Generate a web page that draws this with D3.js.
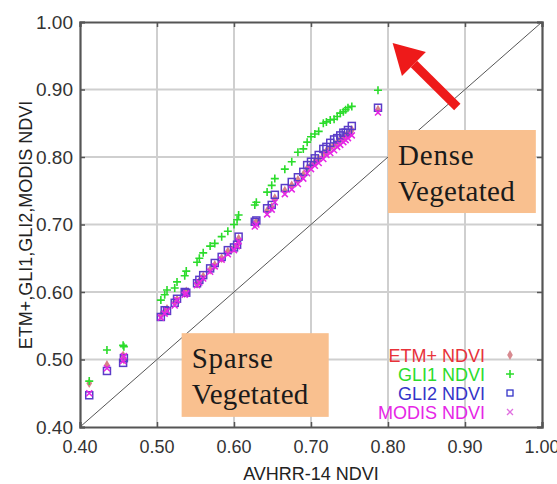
<!DOCTYPE html>
<html><head><meta charset="utf-8">
<script src="https://cdn.jsdelivr.net/npm/d3@7"></script>
<style>body{margin:0;background:#fff}svg{display:block}</style>
</head><body><svg id="c" width="557" height="484"></svg>
<script>
const avhrr = [0.412,0.435,0.456,0.457,0.505,0.510,0.513,0.523,0.526,0.536,0.538,0.552,0.555,0.560,0.569,0.575,0.584,0.592,0.600,0.604,0.606,0.627,0.629,0.643,0.649,0.653,0.666,0.675,0.683,0.690,0.695,0.700,0.705,0.710,0.716,0.720,0.725,0.730,0.734,0.738,0.742,0.745,0.748,0.753,0.787];
const gli2 = [0.447,0.483,0.495,0.502,0.563,0.573,0.572,0.584,0.590,0.600,0.599,0.613,0.618,0.625,0.635,0.643,0.652,0.662,0.666,0.670,0.682,0.704,0.706,0.724,0.729,0.744,0.754,0.763,0.770,0.778,0.788,0.793,0.798,0.803,0.812,0.815,0.821,0.826,0.828,0.832,0.836,0.836,0.840,0.846,0.873];
const gli1 = [0.468,0.514,0.521,0.519,0.588,0.596,0.603,0.606,0.615,0.624,0.631,0.644,0.650,0.658,0.668,0.672,0.682,0.690,0.700,0.707,0.714,0.729,0.733,0.748,0.758,0.768,0.782,0.793,0.807,0.812,0.822,0.830,0.834,0.838,0.850,0.852,0.855,0.856,0.860,0.865,0.867,0.870,0.873,0.875,0.899];
const modis = [0.450,0.487,0.498,0.505,0.562,0.568,0.572,0.580,0.588,0.596,0.598,0.610,0.614,0.620,0.630,0.638,0.648,0.656,0.662,0.668,0.675,0.697,0.700,0.715,0.722,0.733,0.745,0.752,0.760,0.768,0.776,0.782,0.787,0.791,0.797,0.803,0.806,0.810,0.815,0.818,0.822,0.825,0.828,0.832,0.866];
const etm = [0.465,0.492,0.506,0.500,0.565,0.570,0.575,0.585,0.589,0.598,0.601,0.612,0.616,0.623,0.633,0.640,0.650,0.660,0.665,0.669,0.679,0.701,0.704,0.720,0.726,0.739,0.750,0.758,0.766,0.774,0.783,0.788,0.793,0.797,0.805,0.809,0.814,0.818,0.822,0.826,0.829,0.831,0.834,0.840,0.870];
const ticks = [0.40,0.50,0.60,0.70,0.80,0.90,1.00];
const seriesNames = ["ETM+ NDVI","GLI1 NDVI","GLI2 NDVI","MODIS NDVI"];
const seriesColors = ["#e8323a","#2bdc2b","#3434c8","#e626e6"];
const xTitle = "AVHRR-14 NDVI";
const yTitle = "ETM+,GLI1,GLI2,MODIS NDVI";

const svg = d3.select("#c");
const x = d3.scaleLinear().domain([0.4,1.0]).range([80,542]);
const y = d3.scaleLinear().domain([0.4,1.0]).range([427,22]);
const fmt = d3.format(".2f");

// grid
const g = svg.append("g");
g.selectAll(".gx").data(ticks.slice(1,-1)).join("line")
  .attr("x1",d=>x(d)).attr("x2",d=>x(d)).attr("y1",y(0.4)).attr("y2",y(1))
  .attr("stroke","#cfcfcf").attr("stroke-width",2);
g.selectAll(".gy").data(ticks.slice(1,-1)).join("line")
  .attr("y1",d=>y(d)).attr("y2",d=>y(d)).attr("x1",x(0.4)).attr("x2",x(1))
  .attr("stroke","#cfcfcf").attr("stroke-width",2);

// 1:1 line
svg.append("line").attr("x1",x(0.4)).attr("y1",y(0.4)).attr("x2",x(1)).attr("y2",y(1))
  .attr("stroke","#555").attr("stroke-width",1);

// axes (ticks inward)
const ax = svg.append("g");
ax.append("g").attr("transform",`translate(0,${y(0.4)})`)
  .call(d3.axisBottom(x).tickValues(ticks).tickSize(-5).tickFormat(""));
ax.append("g").attr("transform",`translate(0,${y(1)})`)
  .call(d3.axisTop(x).tickValues(ticks).tickSize(-5).tickFormat(""));
ax.append("g").attr("transform",`translate(${x(0.4)},0)`)
  .call(d3.axisLeft(y).tickValues(ticks).tickSize(-5).tickFormat(""));
ax.append("g").attr("transform",`translate(${x(1)},0)`)
  .call(d3.axisRight(y).tickValues(ticks).tickSize(-5).tickFormat(""));
ax.selectAll(".domain").attr("stroke","#555").attr("stroke-width",2.2);
ax.selectAll(".tick line").attr("stroke","#555").attr("stroke-width",1.5);

// tick labels
svg.selectAll(".xl").data(ticks).join("text")
  .attr("x",d=>x(d)).attr("y",453).attr("text-anchor","middle")
  .attr("font-family","Arial, Liberation Sans, sans-serif").attr("font-size",18).attr("fill","#333")
  .text(fmt);
svg.selectAll(".yl").data(ticks).join("text")
  .attr("x",73).attr("y",d=>y(d)+6.5).attr("text-anchor","end")
  .attr("font-family","Arial, Liberation Sans, sans-serif").attr("font-size",19).attr("fill","#333")
  .text(fmt);

svg.append("text").attr("x",311).attr("y",480).attr("text-anchor","middle")
  .attr("font-family","Arial, Liberation Sans, sans-serif").attr("font-size",18).attr("fill","#222").text(xTitle);
svg.append("text").attr("transform",`translate(32,225) rotate(-90)`).attr("text-anchor","middle")
  .attr("font-family","Arial, Liberation Sans, sans-serif").attr("font-size",18).attr("fill","#222").text(yTitle);

// annotation boxes
function box(x0,x1,y0,y1,l1,l2){
  svg.append("rect").attr("x",x(x0)).attr("y",y(y0)).attr("width",x(x1)-x(x0)).attr("height",y(y1)-y(y0)).attr("fill","#f9c08f");
  const tx = x(x0)+10;
  svg.append("text").attr("x",tx).attr("y",y(y0)+35).attr("font-family","Times New Roman, Liberation Serif, serif")
    .attr("font-size",29).attr("letter-spacing",0.8).attr("fill","#1a1a1a").text(l1);
  svg.append("text").attr("x",tx).attr("y",y(y0)+71).attr("font-family","Times New Roman, Liberation Serif, serif")
    .attr("font-size",29).attr("letter-spacing",0.3).attr("fill","#1a1a1a").text(l2);
}
box(0.80,0.992,0.84,0.717,"Dense","Vegetated");
box(0.532,0.723,0.539,0.415,"Sparse","Vegetated");

// arrow
const tail=[x(0.890),y(0.874)], tip=[x(0.806),y(0.969)];
const ang=Math.atan2(tip[1]-tail[1],tip[0]-tail[0]);
const hl=30, hw=17;
const bx=tip[0]-hl*Math.cos(ang), by=tip[1]-hl*Math.sin(ang);
svg.append("line").attr("x1",tail[0]).attr("y1",tail[1]).attr("x2",bx).attr("y2",by)
  .attr("stroke","#ee1a1a").attr("stroke-width",9);
const px=-Math.sin(ang), py=Math.cos(ang);
svg.append("path").attr("d",`M${tip[0]},${tip[1]}L${bx+px*hw},${by+py*hw}L${bx-px*hw},${by-py*hw}Z`).attr("fill","#ee1a1a");

// markers
const sym = {
  diamond: d3.symbol().type(d3.symbolDiamond).size(28),
};
function drawSeries(vals, kind, color){
  const gg = svg.append("g");
  avhrr.forEach((a,i)=>{
    const cx=x(a), cy=y(vals[i]);
    if(kind==="diamond"){
      gg.append("path").attr("d",sym.diamond()).attr("transform",`translate(${cx},${cy})`).attr("fill","#d87f88");
    } else if(kind==="plus"){
      gg.append("path").attr("d","M-4,0H4M0,-4V4").attr("transform",`translate(${cx},${cy})`).attr("stroke",color).attr("stroke-width",1.6);
    } else if(kind==="square"){
      gg.append("rect").attr("x",cx-3.5).attr("y",cy-3.5).attr("width",7).attr("height",7).attr("fill","none").attr("stroke",color).attr("stroke-width",1.5);
    } else {
      gg.append("path").attr("d","M-3,-3L3,3M-3,3L3,-3").attr("transform",`translate(${cx},${cy})`).attr("stroke",color).attr("stroke-width",1.5);
    }
  });
}
drawSeries(etm,"diamond",seriesColors[0]);
drawSeries(gli1,"plus",seriesColors[1]);
drawSeries(gli2,"square","#5a3cc8");
drawSeries(modis,"x",seriesColors[3]);

// legend
const kinds=["diamond","plus","square","x"];
const ly=[355,374,393,412];
seriesNames.forEach((n,i)=>{
  svg.append("text").attr("x",485).attr("y",ly[i]+6.5).attr("text-anchor","end")
    .attr("font-family","Arial, Liberation Sans, sans-serif").attr("font-size",18).attr("fill",seriesColors[i]).text(n);
  const cx=510, cy=ly[i];
  if(kinds[i]==="diamond") svg.append("path").attr("d",sym.diamond()).attr("transform",`translate(${cx},${cy})`).attr("fill","#d88a90");
  else if(kinds[i]==="plus") svg.append("path").attr("d","M-4,0H4M0,-4V4").attr("transform",`translate(${cx},${cy})`).attr("stroke",seriesColors[1]).attr("stroke-width",1.6);
  else if(kinds[i]==="square") svg.append("rect").attr("x",cx-3).attr("y",cy-3).attr("width",6).attr("height",6).attr("fill","none").attr("stroke",seriesColors[2]).attr("stroke-width",1.3);
  else svg.append("path").attr("d","M-3,-3L3,3M-3,3L3,-3").attr("transform",`translate(${cx},${cy})`).attr("stroke","#e070e0").attr("stroke-width",1.3);
});
</script></body></html>
